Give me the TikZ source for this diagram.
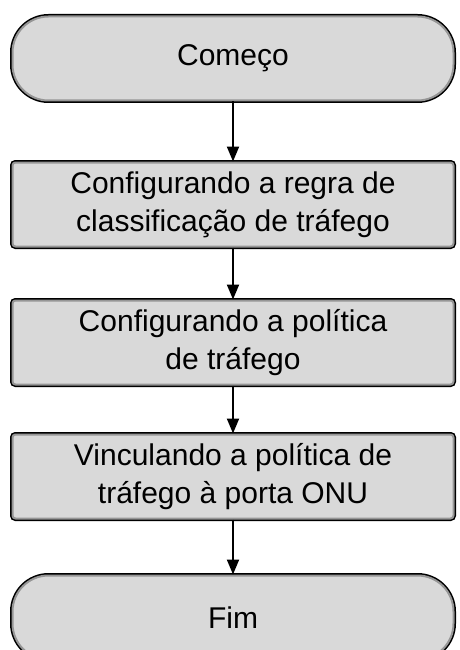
\documentclass[tikz,border=0pt]{standalone}
\usepackage{fontspec}
\setmainfont{Liberation Sans}
\usetikzlibrary{arrows.meta, positioning}
\definecolor{boxfill}{RGB}{217,217,217}
\definecolor{bevel}{RGB}{150,150,150}
\tikzset{
  blk/.style ={rectangle, rounded corners=3pt, align=center, fill=boxfill,
               draw=bevel, line width=2pt, preaction={draw=black, line width=5pt},
               minimum width=441pt, minimum height=84pt, inner sep=0pt,
               font=\fontsize{30}{38}\selectfont},
  term/.style={blk, rounded corners=36pt},
  fl/.style  ={-{Triangle[length=15pt, width=12pt]}, line width=2pt},
}
\begin{document}
\begin{tikzpicture}[x=1pt, y=1pt]
  \useasboundingbox (0,0) rectangle (459,-650);
  \node[term] (start) at (233,-58.5) {Começo};
  \node[blk, below=60pt of start] (rule) {Configurando a regra de\\classificação de tráfego};
  \node[blk, below=52pt of rule] (policy) {Configurando a política\\de tráfego};
  \node[blk, below=48pt of policy] (bind) {Vinculando a política de\\tráfego à porta ONU};
  \node[term, below=55pt of bind] (end) {Fim};
  \draw[fl] (start) -- (rule);
  \draw[fl] (rule) -- (policy);
  \draw[fl] (policy) -- (bind);
  \draw[fl] (bind) -- (end);
\end{tikzpicture}
\end{document}
